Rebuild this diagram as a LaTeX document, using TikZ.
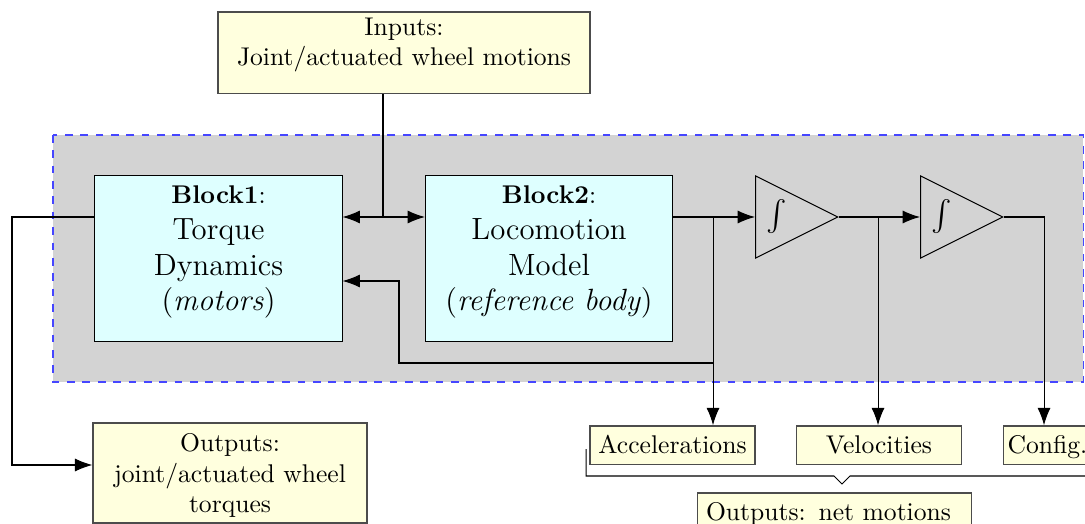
\documentclass[tikz,border=0pt]{standalone}
\usepackage{exscale}
\usetikzlibrary{arrows.meta,shapes.geometric,calc}
\definecolor{regiongray}{RGB}{211,211,211}
\definecolor{boxyellow}{RGB}{255,255,222}
\definecolor{boxcyan}{RGB}{222,255,255}
\definecolor{borderblue}{RGB}{70,70,255}
\newcommand{\tstrut}[1]{\rule{0pt}{#1}}
\newcommand{\bstrut}[1]{\rule[-#1]{0pt}{#1}}
\begin{document}
\begin{tikzpicture}[x=0.390625pt,y=-0.390625pt,
  line width=0.4pt,
  arr/.style={-{Latex[length=6.8pt,width=5.1pt]}},
  ybox/.style={draw=black!70, line width=0.6pt, fill=boxyellow, inner ysep=0pt, inner xsep=3.33pt},
  block/.style={draw=black, fill=boxcyan, minimum width=96.5pt, minimum height=64.5pt, inner ysep=0pt, align=center, font=\fontsize{12}{14}\selectfont},
  integ/.style={draw=black, isosceles triangle, isosceles triangle stretches, minimum width=32.1pt, minimum height=32.1pt, inner sep=0pt, anchor=lower side},
  intsign/.style={font=\fontsize{12}{14}\selectfont},
  smallbox/.style={ybox, minimum height=15pt, text height=10.9pt, text depth=4.1pt},
  outbox/.style={ybox, text width=100.3pt, minimum height=39.1pt}
]
\useasboundingbox (0,0) rectangle (1085,524);
\clip (0,0) rectangle (1085,524);
% shaded region
\fill[regiongray] (53,135) rectangle (1083,382);
\draw[borderblue, dashed] (53,135) rectangle (1083,382);

% nodes
\node[ybox, minimum width=145.3pt, minimum height=31.8pt, align=center] (inp) at (404,52.7)
  {\tstrut{9pt}Inputs:\\Joint/actuated wheel motions\bstrut{10.8pt}};
\node[block] (b1) at (218.5,258.5)
  {\tstrut{10.7pt}{\normalsize\textbf{Block1}:}\\Torque\\Dynamics\\(\textit{motors})\bstrut{11.8pt}};
\node[block] (b2) at (549,258.5)
  {\tstrut{10.7pt}{\normalsize\textbf{Block2}:}\\Locomotion\\Model\\(\textit{reference body})\bstrut{11.8pt}};
\node[integ] (t1) at (755,217) {};
\node[integ] (t2) at (920,217) {};
\node[intsign] (s1) at ($(t1.lower side)+(21.7,0)$) {$\int$};
\node[intsign] (s2) at ($(t2.lower side)+(21.7,0)$) {$\int$};

\node[smallbox, minimum width=64.5pt] (acc) at (672.5,445.2) {Accelerations};
\node[smallbox, minimum width=64.5pt] (vel) at (879,445.2) {Velocities};
\node[smallbox, inner xsep=1.6pt, anchor=west] (cfg) at (1002.7,445.2) {Config.};

\node[outbox, align=center] (out1) at (230,473)
  {\tstrut{11.1pt}Outputs:\\joint/actuated wheel\\torques\bstrut{4pt}};
\node[outbox, align=left] (out2) at (834.4,543)
  {\tstrut{10.8pt}Outputs: net motions\bstrut{28.3pt}};

% connectors
\coordinate (j1) at (383,217);
\draw (inp.south -| j1) -- (j1);
\draw[arr] (j1) -- (b1.east |- j1);
\draw[arr] (j1) -- (b2.west |- j1);
\coordinate (cL) at (12,465);
\draw[arr] (b1.west |- j1) -| (cL) -- (out1.west |- cL);
\coordinate (j2) at (713,217);
\draw[arr] (b2.east |- j2) -- (t1.lower side);
\draw[arr] (j2) -- (acc.north -| j2);
\coordinate (f1) at (713,363);
\coordinate (f2) at (399,281);
\draw[arr] (f1) -| (f2) -- (b1.east |- f2);
\coordinate (j3) at (878,217);
\draw[arr] (t1.apex) -- (t2.lower side);
\draw[arr] (j3) -- (vel.north -| j3);
\coordinate (j4) at (1044,217);
\draw[arr] (t2.apex) -- (j4) -- (cfg.north -| j4);

% bracket grouping the net-motion outputs
\draw (586,449) -- (586,476) -- (834,476) -- (842,484) -- (850,476) -- (1098,476) -- (1098,449);
\end{tikzpicture}
\end{document}
